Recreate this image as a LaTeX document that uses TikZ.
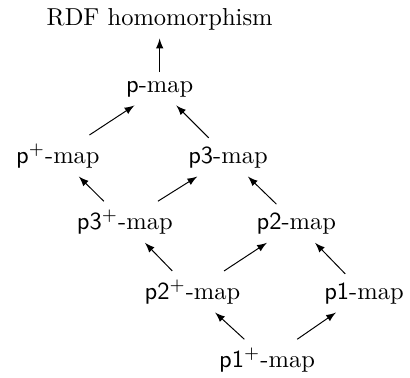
\documentclass[tikz,border=0pt]{standalone}
\usepackage{amsmath,amssymb}
\usetikzlibrary{arrows.meta, positioning}

\begin{document}
\begin{tikzpicture}[>=latex,
    mapnode/.style={anchor=base, inner sep=0.333em}
]
    \useasboundingbox (0,0) rectangle (5.88,5.41);
    \node[mapnode] (rdf) at (2.29,5.05) {RDF homomorphism};
    \node[mapnode] (pmap) at (2.29,4.09) {\textsf{p}-map};
    \node[mapnode] (pplus) at (0.83,3.07) {\textsf{p}$^+$-map};
    \node[mapnode] (pthree) at (3.27,3.07) {\textsf{p3}-map};
    \node[mapnode] (pthreeplus) at (1.79,2.12) {\textsf{p3}$^+$-map};
    \node[mapnode] (ptwo) at (4.25,2.12) {\textsf{p2}-map};
    \node[mapnode] (ptwoplus) at (2.76,1.12) {\textsf{p2}$^+$-map};
    \node[mapnode] (pone) at (5.22,1.12) {\textsf{p1}-map};
    \node[mapnode] (poneplus) at (3.83,0.14) {\textsf{p1}$^+$-map};
    \draw[->] (pmap) -- (rdf);
    \draw[->] (pplus) -- (pmap);
    \draw[->] (pthree) -- (pmap);
    \draw[->] (pthreeplus) -- (pplus);
    \draw[->] (pthreeplus) -- (pthree);
    \draw[->] (ptwo) -- (pthree);
    \draw[->] (ptwoplus) -- (pthreeplus);
    \draw[->] (ptwoplus) -- (ptwo);
    \draw[->] (pone) -- (ptwo);
    \draw[->] (poneplus) -- (ptwoplus);
    \draw[->] (poneplus) -- (pone);
\end{tikzpicture}
\end{document}
